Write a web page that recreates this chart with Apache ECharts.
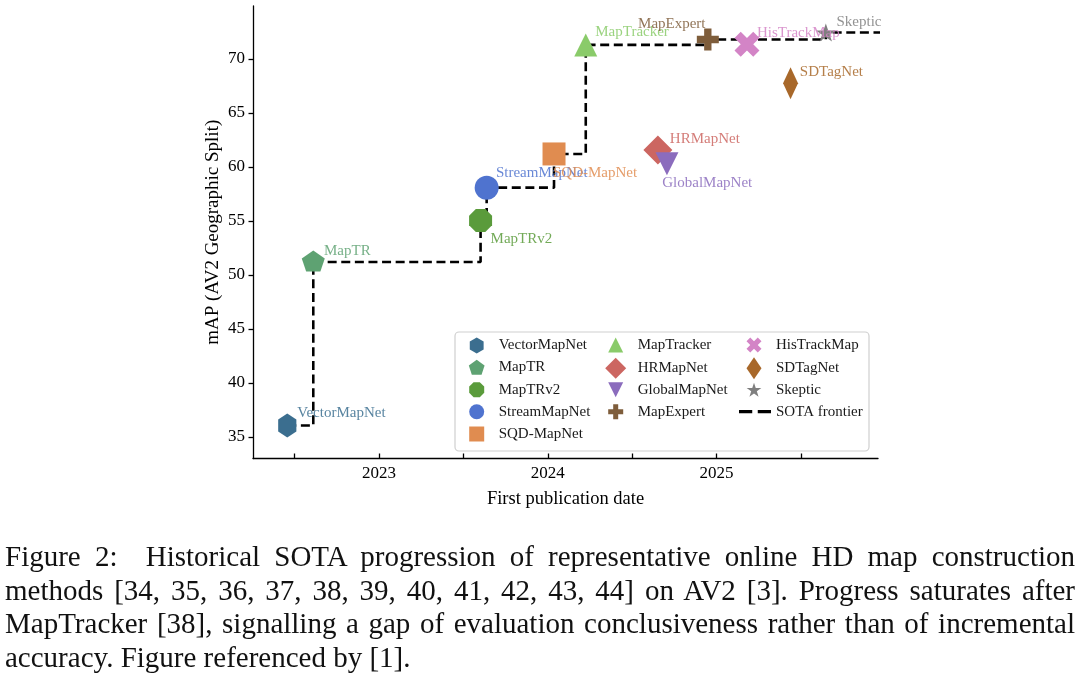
<!DOCTYPE html>
<html>
<head>
<meta charset="utf-8">
<script src="https://cdn.jsdelivr.net/npm/echarts@6/dist/echarts.min.js"></script>
<style>
html,body{margin:0;padding:0;background:#fff;}
#chart{position:absolute;left:0;top:0;width:1080px;height:679px;}
#caption{position:absolute;left:5px;top:540px;width:1070px;font-family:'Liberation Serif','Times New Roman',serif;font-size:29px;line-height:33.5px;color:#111;z-index:2;}
#caption div{white-space:nowrap;}
#caption span{display:inline-block;white-space:pre;}
</style>
</head>
<body>
<div id="chart"></div>
<div id="caption">
<div class="j"><span>Figure 2:&nbsp; Historical SOTA progression of representative online HD map construction</span></div>
<div class="j"><span>methods [34, 35, 36, 37, 38, 39, 40, 41, 42, 43, 44] on AV2 [3]. Progress saturates after</span></div>
<div class="j"><span>MapTracker [38], signalling a gap of evaluation conclusiveness rather than of incremental</span></div>
<div class="l"><span>accuracy. Figure referenced by [1].</span></div>
</div>
<script>
// ---------------- data ----------------
const methods = ['VectorMapNet','MapTR','MapTRv2','StreamMapNet','SQD-MapNet','MapTracker','HRMapNet','GlobalMapNet','MapExpert','HisTrackMap','SDTagNet','Skeptic'];
const pubDates = [2022.457, 2022.611, 2023.602, 2023.638, 2024.037, 2024.225, 2024.652, 2024.706, 2024.948, 2025.180, 2025.438, 2025.647];
const mapScores = [36.05, 51.2, 55.03, 58.08, 61.2, 71.3, 61.57, 60.3, 71.8, 71.36, 67.75, 72.44];
const frontierEndDate = 2026.0;
const frontierName = 'SOTA frontier';
const xTickValues = [2022.5, 2023, 2023.5, 2024, 2024.5, 2025, 2025.5];
const xTickLabels = [2023, 2024, 2025];
const yTickValues = [35, 40, 45, 50, 55, 60, 65, 70];

// ---------------- styles ----------------
const SERIF = "'Liberation Serif','Times New Roman',serif";
const SYM = {
  hex: ['path://M0,-1L0.866,-0.5L0.866,0.5L0,1L-0.866,0.5L-0.866,-0.5Z', 0.866],
  pent: ['path://M0,-1L0.951,-0.309L0.588,0.809L-0.588,0.809L-0.951,-0.309Z', 1.051],
  oct: ['path://M-0.383,-0.924L0.383,-0.924L0.924,-0.383L0.924,0.383L0.383,0.924L-0.383,0.924L-0.924,0.383L-0.924,-0.383Z', 1],
  circle: ['circle', 1],
  square: ['path://M0,0L1,0L1,1L0,1Z', 1],
  triUp: ['path://M0,-1L1,1L-1,1Z', 1],
  diamond: ['path://M0,-1L1,0L0,1L-1,0Z', 1],
  triDown: ['path://M-1,-1L1,-1L0,1Z', 1],
  plus: ['path://M-1,-3L1,-3L1,-1L3,-1L3,1L1,1L1,3L-1,3L-1,1L-3,1L-3,-1L-1,-1Z', 1],
  cross: ['path://M1.414,-2.828L2.828,-1.414L1.414,0L2.828,1.414L1.414,2.828L0,1.414L-1.414,2.828L-2.828,1.414L-1.414,0L-2.828,-1.414L-1.414,-2.828L0,-1.414Z', 1],
  thinDiamond: ['path://M0,-1L0.68,0L0,1L-0.68,0Z', 0.68],
  star: ['path://M0,-1L0.2245,-0.309L0.951,-0.309L0.3633,0.118L0.588,0.809L0,0.382L-0.588,0.809L-0.3633,0.118L-0.951,-0.309L-0.2245,-0.309Z', 1.051]
};
const dashIcon = 'path://M0,0L12,0L12,3L0,3Z M17,0L29,0L29,3L17,3Z';
const styleOf = {
  'VectorMapNet': {color:'#3b6e8f', sym:SYM.hex, size:[21,24], off:[10,-12.4], lh:16},
  'MapTR':        {color:'#5ea272', sym:SYM.pent, size:[23,22], off:[10.7,-10], lh:15, symOff:[0,-1]},
  'MapTRv2':      {color:'#5a9b3b', sym:SYM.oct, size:[23,23], off:[10,18.6], lh:15},
  'StreamMapNet': {color:'#4f73cf', sym:SYM.circle, size:24, off:[9.3,-14.4], lh:15},
  'SQD-MapNet':   {color:'#e08c50', sym:SYM.square, size:23, off:[-1,19.3], lh:15},
  'MapTracker':   {color:'#8acb6a', sym:SYM.triUp, size:[23,23], off:[9.5,-13.3], lh:15},
  'HRMapNet':     {color:'#cc6661', sym:SYM.diamond, size:[29,29], off:[12,-10.7], lh:21},
  'GlobalMapNet': {color:'#8b6cbd', sym:SYM.triDown, size:[23,23], off:[-4.7,19], lh:15},
  'MapExpert':    {color:'#7e5d3b', sym:SYM.plus, size:[22,22], off:[-2.3,-15.3], lh:15, align:'right'},
  'HisTrackMap':  {color:'#d384c6', sym:SYM.cross, size:[25,25], off:[10,-11.6], lh:15},
  'SDTagNet':     {color:'#a8682a', sym:SYM.thinDiamond, size:[22,32], off:[9.3,-11.6], lh:22},
  'Skeptic':      {color:'#7f7f7f', sym:SYM.star, size:[20,19], off:[10.7,-11], lh:14}
};
// legend layout: [column, row]
const legendCols = [476.7, 615.7, 754];
const legendRows = [346, 368.3, 390.7, 412.7, 435];
const legendCell = {
  'VectorMapNet':[0,0],'MapTR':[0,1],'MapTRv2':[0,2],'StreamMapNet':[0,3],'SQD-MapNet':[0,4],
  'MapTracker':[1,0],'HRMapNet':[1,1],'GlobalMapNet':[1,2],'MapExpert':[1,3],
  'HisTrackMap':[2,0],'SDTagNet':[2,1],'Skeptic':[2,2],'SOTA frontier':[2,3]
};

// ---------------- build ----------------
function hexA(c, a){const n=parseInt(c.slice(1),16);return 'rgba('+(n>>16)+','+((n>>8)&255)+','+(n&255)+','+a+')';}

const order = methods.map((m,i)=>i).sort((a,b)=>pubDates[a]-pubDates[b]);
const frontier = [];
let best = -Infinity;
order.forEach(i=>{ if(mapScores[i] > best){ best = mapScores[i]; frontier.push([pubDates[i], mapScores[i]]); } });
frontier.push([frontierEndDate, best]);

const series = [{
  name: frontierName, type:'line', data: frontier, step:'end', symbol:'none', showSymbol:false, z:1,
  itemStyle:{color:'#000'},
  lineStyle:{color:'#000', width:2.6, type:[9,4.6]}, silent:true, clip:true
}];
methods.forEach((m,i)=>{
  const s = styleOf[m];
  series.push({
    name:m, type:'scatter', z:3,
    data:[[pubDates[i], mapScores[i]]],
    symbol:s.sym[0], symbolSize:s.size, symbolKeepAspect:true, symbolOffset:s.symOff||[0,0],
    itemStyle:{color:s.color, opacity:1},
    label:{show:true, formatter:m, position:'inside', align:s.align||'left', verticalAlign:'middle',
      offset:s.off, fontFamily:SERIF, fontSize:15, color:hexA(s.color,0.85)},
    emphasis:{disabled:true}, silent:true
  });
});

const TEXT_H = 17;
const legends = Object.keys(legendCell).map(name=>{
  const [c,r] = legendCell[name];
  const isLine = name === frontierName;
  const w = isLine ? 32 : 34;
  const h = isLine ? 14 : styleOf[name].lh;
  const item = {name:name};
  let left;
  if(isLine){
    item.icon = dashIcon;
    item.itemStyle = {color:'#000', borderWidth:0};
    left = legendCols[c] + 1 - w/2;
  } else {
    const iconW = Math.min(w, h*styleOf[name].sym[1]);
    left = legendCols[c] - iconW/2;
  }
  return {
    data:[item], left:left, top: legendRows[r] - Math.max(h, TEXT_H)/2, itemWidth:w, itemHeight:h,
    padding:0, itemGap:0, selectedMode:false, orient:'vertical', align:'left', z:5,
    textStyle:{fontFamily:SERIF, fontSize:15, color:'#1a1a1a'}
  };
});

const option = {
  animation:false,
  backgroundColor:'#fff',
  grid:{left:253, top:6, right:202, bottom:220.5},
  xAxis:{
    type:'value', min:2022.254, max:2025.956,
    axisLine:{show:true, lineStyle:{color:'#000', width:1.3}},
    axisTick:{show:true, inside:true, length:5, customValues:xTickValues, lineStyle:{color:'#000', width:1.3}},
    axisLabel:{customValues:xTickLabels, formatter:v=>String(Math.round(v)), fontFamily:SERIF, fontSize:17, color:'#000', margin:7},
    splitLine:{show:false},
    name:'First publication date', nameLocation:'middle', nameGap:31, nameMoveOverlap:false,
    nameTextStyle:{fontFamily:SERIF, fontSize:18.5, color:'#000'}
  },
  yAxis:{
    type:'value', min:33, max:74.9,
    axisLine:{show:true, lineStyle:{color:'#000', width:1.3}},
    axisTick:{show:true, inside:false, length:4.5, customValues:yTickValues, lineStyle:{color:'#000', width:1.3}},
    axisLabel:{customValues:yTickValues, fontFamily:SERIF, fontSize:17, color:'#000', margin:8},
    splitLine:{show:false},
    name:'mAP (AV2 Geographic Split)', nameLocation:'middle', nameGap:30, nameMoveOverlap:false,
    nameTextStyle:{fontFamily:SERIF, fontSize:19, color:'#000'}
  },
  legend: legends,
  graphic:[{type:'rect', z:3, shape:{x:455, y:332, width:414, height:119, r:4},
    style:{fill:'rgba(255,255,255,0.85)', stroke:'#cfcfcf', lineWidth:1.2}}],
  series: series
};
const chart = echarts.init(document.getElementById('chart'), null, {renderer:'canvas'});
chart.setOption(option);

// justify caption lines exactly to the column width
const W = 1070;
document.querySelectorAll('#caption div.j').forEach(div=>{
  const span = div.querySelector('span');
  const txt = span.textContent;
  const seps = (txt.match(/[ \u00a0]/g)||[]).length;
  const natural = span.getBoundingClientRect().width;
  if(seps>0){ span.style.wordSpacing = ((W - natural)/seps) + 'px'; }
});
</script>
</body>
</html>
